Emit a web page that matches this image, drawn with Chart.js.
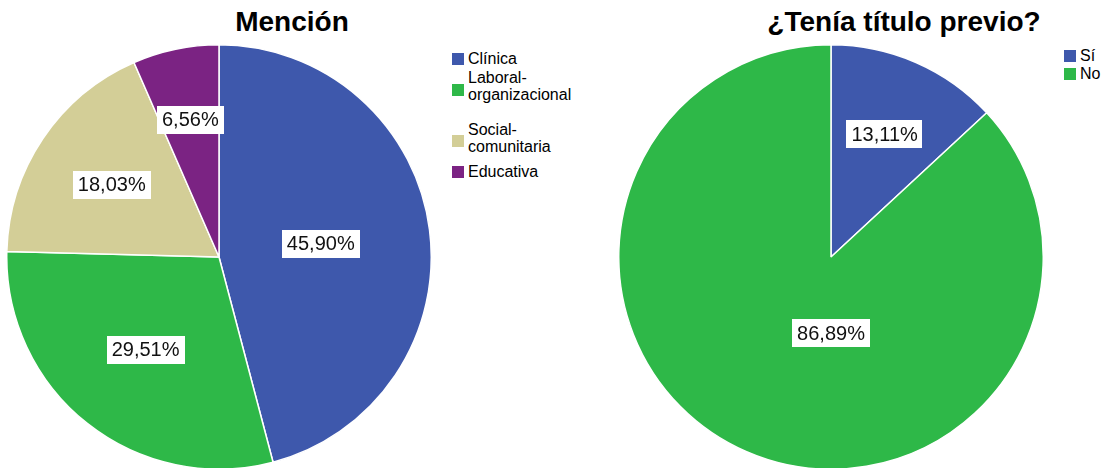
<!DOCTYPE html>
<html>
<head>
<meta charset="utf-8">
<script src="https://cdn.jsdelivr.net/npm/chart.js@4.4.1/dist/chart.umd.min.js"></script>
<style>
  html, body { margin: 0; padding: 0; background: #ffffff; }
  body { width: 1116px; height: 468px; position: relative; overflow: hidden; font-family: "Liberation Sans", Arial, sans-serif; }
  .title { position: absolute; font-weight: bold; font-size: 28px; color: #000; white-space: nowrap; transform: translateX(-50%); line-height: 28px; }
  .wrap { position: absolute; width: 426px; height: 426px; }
  .lg { position: absolute; font-size: 16px; line-height: 16px; color: #000; white-space: nowrap; }
  .sw { position: absolute; width: 12px; height: 12px; }
</style>
</head>
<body>
<div class="title" id="t1" style="left:292px; top:8px;"></div>
<div class="title" id="t2" style="left:904px; top:8px;"></div>
<div class="wrap" style="left:6px; top:44px;"><canvas id="c1"></canvas></div>
<div class="wrap" style="left:618px; top:44px;"><canvas id="c2"></canvas></div>
<div id="leg1"></div>
<div id="leg2"></div>
<script>
// ---- data ----
const mencionTitle = "Mención";
const mencionLabels = [["Clínica"], ["Laboral-", "organizacional"], ["Social-", "comunitaria"], ["Educativa"]];
const mencionValues = [45.90, 29.51, 18.03, 6.56];
const mencionColors = ["#3E58AC", "#2EB848", "#D3CE97", "#7B2383"];

const tituloTitle = "¿Tenía título previo?";
const tituloLabels = [["Sí"], ["No"]];
const tituloValues = [13.11, 86.89];
const tituloColors = ["#3E58AC", "#2EB848"];

document.getElementById('t1').textContent = mencionTitle;
document.getElementById('t2').textContent = tituloTitle;

function fmt(v) { return v.toFixed(2).replace('.', ',') + '%'; }

const labelPlugin = {
  id: 'pctLabels',
  afterDatasetsDraw(chart) {
    const ctx = chart.ctx;
    const meta = chart.getDatasetMeta(0);
    const data = chart.data.datasets[0].data;
    const total = data.reduce((a, b) => a + b, 0);
    ctx.save();
    ctx.font = '20px "Liberation Sans", Arial, sans-serif';
    ctx.textAlign = 'center';
    ctx.textBaseline = 'middle';
    meta.data.forEach((arc, i) => {
      const frac = data[i] / total;
      const mid = (arc.startAngle + arc.endAngle) / 2;
      let d = arc.outerRadius * (0.69 - 0.45 * frac);
      let x = arc.x + Math.cos(mid) * d;
      let y = arc.y + Math.sin(mid) * d;
      if (frac > 0.5) { x = arc.x; y = arc.y + arc.outerRadius * 0.36; }
      const txt = fmt(data[i]);
      const w = ctx.measureText(txt).width + 10;
      const h = 28;
      ctx.fillStyle = '#ffffff';
      ctx.fillRect(Math.round(x - w / 2), Math.round(y - h / 2), Math.round(w), h);
      ctx.fillStyle = '#111111';
      ctx.fillText(txt, x, y + 1);
    });
    ctx.restore();
  }
};

function makePie(id, labels, values, colors) {
  return new Chart(document.getElementById(id), {
    type: 'pie',
    data: {
      labels: labels.map(l => l.join(' ')),
      datasets: [{ data: values, backgroundColor: colors, borderColor: '#ffffff', borderWidth: 1.5, hoverOffset: 0 }]
    },
    options: {
      responsive: true,
      maintainAspectRatio: false,
      animation: false,
      events: [],
      layout: { padding: 0 },
      plugins: { legend: { display: false }, tooltip: { enabled: false }, title: { display: false } }
    },
    plugins: [labelPlugin]
  });
}

makePie('c1', mencionLabels, mencionValues, mencionColors);
makePie('c2', tituloLabels, tituloValues, tituloColors);

function makeLegend(id, labels, colors, x, lineTops, swatchTops) {
  const host = document.getElementById(id);
  labels.forEach((lines, i) => {
    const sw = document.createElement('div');
    sw.className = 'sw';
    sw.style.left = x + 'px';
    sw.style.top = swatchTops[i] + 'px';
    sw.style.background = colors[i];
    host.appendChild(sw);
    lines.forEach((t, j) => {
      const el = document.createElement('div');
      el.className = 'lg';
      el.textContent = t;
      el.style.left = (x + 16) + 'px';
      el.style.top = lineTops[i][j] + 'px';
      host.appendChild(el);
    });
  });
}
makeLegend('leg1', mencionLabels, mencionColors, 452,
  [[51], [70, 87], [122, 139], [164]], [53, 84, 135, 166]);
makeLegend('leg2', tituloLabels, tituloColors, 1064,
  [[48], [66]], [50, 68]);
</script>
</body>
</html>
